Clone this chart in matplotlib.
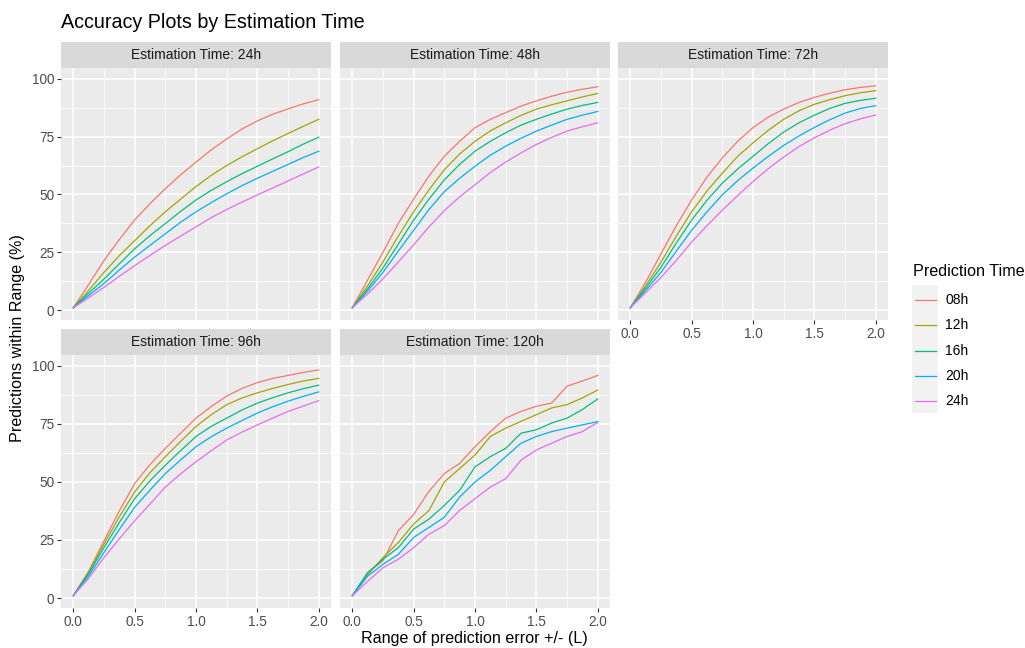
import matplotlib.pyplot as plt
from matplotlib.patches import Rectangle

plt.rcParams['font.family'] = ['Liberation Sans', 'DejaVu Sans']

# data
pred_times = ['08h', '12h', '16h', '20h', '24h']
est_times = ['24h', '48h', '72h', '96h', '120h']
x_err = [0.0, 0.125, 0.25, 0.375, 0.5, 0.625, 0.75, 0.875, 1.0,
         1.125, 1.25, 1.375, 1.5, 1.625, 1.75, 1.875, 2.0]

# rows: 08h, 12h, 16h, 20h, 24h
acc_24h = [
    [1, 11, 21.4, 30.5, 39, 46, 52.5, 58.5, 64, 69.3, 74, 78.3, 81.8, 84.7, 87, 89.2, 91],
    [1, 8.5, 16.3, 23.5, 30, 36.5, 42.5, 48, 53.4, 58.3, 62.5, 66.3, 69.8, 73.2, 76.4, 79.5, 82.5],
    [1, 7.3, 13.4, 20, 26.5, 32.2, 37.4, 42.7, 47.6, 51.8, 55.5, 59, 62.2, 65.4, 68.5, 71.8, 74.8],
    [1, 6.3, 11.5, 17.3, 22.9, 28, 33, 38, 42.5, 46.5, 50.3, 53.8, 57, 60, 63, 66, 68.7],
    [1, 5.3, 9.8, 14.6, 19.2, 23.6, 28, 32, 36, 40, 43.5, 46.7, 49.8, 52.8, 55.8, 58.9, 61.9],
]
acc_48h = [
    [1, 13, 25, 37.5, 48, 58, 66.5, 73, 78.9, 82.5, 85.4, 88.2, 90.5, 92.5, 94.2, 95.5, 96.6],
    [1, 10.5, 20.8, 32, 42.5, 52, 60.7, 67.5, 73, 77.5, 81, 84.2, 86.9, 88.8, 90.5, 92.2, 93.7],
    [1, 9.2, 18.2, 28.5, 38.9, 48, 56.3, 63, 68.7, 73, 76.7, 80, 82.5, 84.8, 86.9, 88.5, 89.8],
    [1, 8.2, 16.3, 25.5, 34.5, 43.5, 51.2, 57, 62.2, 67, 70.9, 74.3, 77.4, 80, 82.5, 84.3, 85.9],
    [1, 7, 13.5, 20.8, 28.2, 36, 43, 49, 54.2, 59.5, 64, 68, 71.6, 74.7, 77.4, 79.3, 81],
]
acc_72h = [
    [1, 12, 24.3, 36.5, 47.6, 57.5, 65.8, 73, 78.9, 83.5, 86.9, 89.8, 92, 93.8, 95.3, 96.3, 97],
    [1, 10.5, 20.7, 32, 42.5, 51.5, 59.2, 66.5, 72.3, 77.8, 82.5, 86.2, 89, 91, 92.7, 94, 94.9],
    [1, 9.5, 18.5, 29, 38.9, 47.5, 54.9, 61, 66.5, 72, 77, 81, 84.3, 87.2, 89.4, 90.7, 91.6],
    [1, 8.5, 16.3, 25.5, 34.5, 42.5, 49.8, 56, 61.4, 66.5, 71.2, 75.3, 79, 82.3, 85.2, 87.2, 88.4],
    [1, 7.5, 14.1, 21.5, 29.4, 36.5, 43.2, 49.5, 55.6, 61.2, 66.2, 70.7, 74.5, 77.8, 80.6, 82.7, 84.4],
]
acc_96h = [
    [1, 11.5, 24.6, 37.5, 49.3, 57.5, 64.5, 71, 77.5, 82.5, 87, 90.3, 92.8, 94.6, 95.9, 97.2, 98.3],
    [1, 11, 23.2, 35, 45.7, 54, 60.9, 67.5, 73.9, 79, 83.3, 86.2, 88.4, 90.3, 92, 93.5, 94.6],
    [1, 10.5, 21.7, 32.5, 42.8, 50.5, 57.2, 63.5, 69.6, 74, 77.5, 81, 84, 86.3, 88.4, 90.2, 91.7],
    [1, 9.5, 19.6, 29.5, 39.1, 46.5, 53.6, 59.5, 65.2, 69.5, 73.2, 76.5, 79.7, 82.4, 84.8, 86.9, 88.8],
    [1, 8.5, 17.4, 25.5, 33.3, 40.5, 47.8, 53.5, 58.7, 63.5, 68.1, 71.5, 74.6, 77.5, 80.4, 82.7, 85],
]
acc_120h = [
    [1, 10.9, 16, 29, 36, 46, 53.6, 58, 65.2, 71.7, 77.5, 80.4, 82.6, 84, 91.3, 93.5, 95.9],
    [1, 10, 17.4, 23.9, 31.9, 37.7, 50, 55.8, 61.6, 69.6, 73.2, 76.1, 79, 81.9, 83.3, 86.2, 89.6],
    [1, 10.9, 16.7, 21.7, 29.7, 34, 39.9, 46.4, 56.5, 60.9, 64.5, 71, 72.5, 75.4, 77.5, 81.2, 85.8],
    [1, 9.4, 14.5, 18.8, 26.1, 30.4, 34.8, 43.5, 50, 55, 60.9, 66.7, 69.6, 71.7, 73.2, 74.6, 76],
    [1, 7.2, 13, 16.7, 21.7, 27.5, 31.2, 37.7, 42.8, 47.8, 51.4, 59.4, 63.8, 66.7, 69.6, 71.7, 75.7],
]
all_acc = [acc_24h, acc_48h, acc_72h, acc_96h, acc_120h]

colors = ['#F8766D', '#A3A500', '#00BF7D', '#00B0F6', '#E76BF3']

W, H = 1025, 648
fig = plt.figure(figsize=(W / 100, H / 100), dpi=100)

col_left = [61, 340, 618]
panel_w = 270
rows = [(68, 320), (355, 608)]
strip_h = 26

for i, (est, acc) in enumerate(zip(est_times, all_acc)):
    r, c = divmod(i, 3)
    top, bot = rows[r]
    left = col_left[c]
    ax = fig.add_axes([left / W, 1 - bot / H, panel_w / W, (bot - top) / H])
    ax.set_facecolor('#EBEBEB')
    for s in ax.spines.values():
        s.set_visible(False)
    ax.set_xlim(-0.1, 2.1)
    ax.set_ylim(-4.3, 104.7)
    ax.set_xticks([0, 0.5, 1.0, 1.5, 2.0])
    ax.set_yticks([0, 25, 50, 75, 100])
    ax.set_xticks([0.25, 0.75, 1.25, 1.75], minor=True)
    ax.set_yticks([12.5, 37.5, 62.5, 87.5], minor=True)
    ax.grid(which='major', color='white', lw=1.1)
    ax.grid(which='minor', color='white', lw=0.55)
    ax.set_axisbelow(True)
    ax.tick_params(which='minor', length=0)
    ax.tick_params(which='major', length=3, width=0.8, color='#333333',
                   labelcolor='#4D4D4D', labelsize=9.8, pad=2)
    ax.set_xticklabels(['0.0', '0.5', '1.0', '1.5', '2.0'])
    if c != 0:
        ax.tick_params(axis='y', left=False, labelleft=False)
    if r == 0 and c < 2:
        ax.tick_params(axis='x', bottom=False, labelbottom=False)

    for vals, col in zip(acc, colors):
        ax.plot(x_err, vals, color=col, lw=0.9)

    # facet strip
    sax = fig.add_axes([left / W, 1 - top / H, panel_w / W, strip_h / H])
    sax.set_facecolor('#D9D9D9')
    sax.set_xticks([])
    sax.set_yticks([])
    for s in sax.spines.values():
        s.set_visible(False)
    sax.text(0.5, 0.5, 'Estimation Time: ' + est, ha='center', va='center',
             fontsize=10, color='#1A1A1A', transform=sax.transAxes)

fig.text(61 / W, 1 - 22 / H, 'Accuracy Plots by Estimation Time', fontsize=14.2,
         ha='left', va='center', color='black')
fig.text(18 / W, 1 - 338 / H, 'Predictions within Range (%)', rotation=90,
         fontsize=11.6, ha='center', va='center')
fig.text(474 / W, 1 - 639 / H, 'Range of prediction error +/- (L)',
         fontsize=11.6, ha='center', va='center')

# legend
fig.text(913 / W, 1 - 272 / H, 'Prediction Time', fontsize=11.6, ha='left', va='center')
fig.add_artist(Rectangle((912 / W, 1 - 413 / H), 26 / W, 128 / H,
                         transform=fig.transFigure, facecolor='#F2F2F2',
                         edgecolor='none'))
for k, (lab, col) in enumerate(zip(pred_times, colors)):
    yk = 1 - (300 + 25.3 * k) / H
    fig.add_artist(plt.Line2D([915 / W, 936 / W], [yk, yk], color=col, lw=0.9,
                              transform=fig.transFigure))
    fig.text(945 / W, yk, lab, fontsize=10, ha='left', va='center')

fig.savefig('out.png', dpi=100)
